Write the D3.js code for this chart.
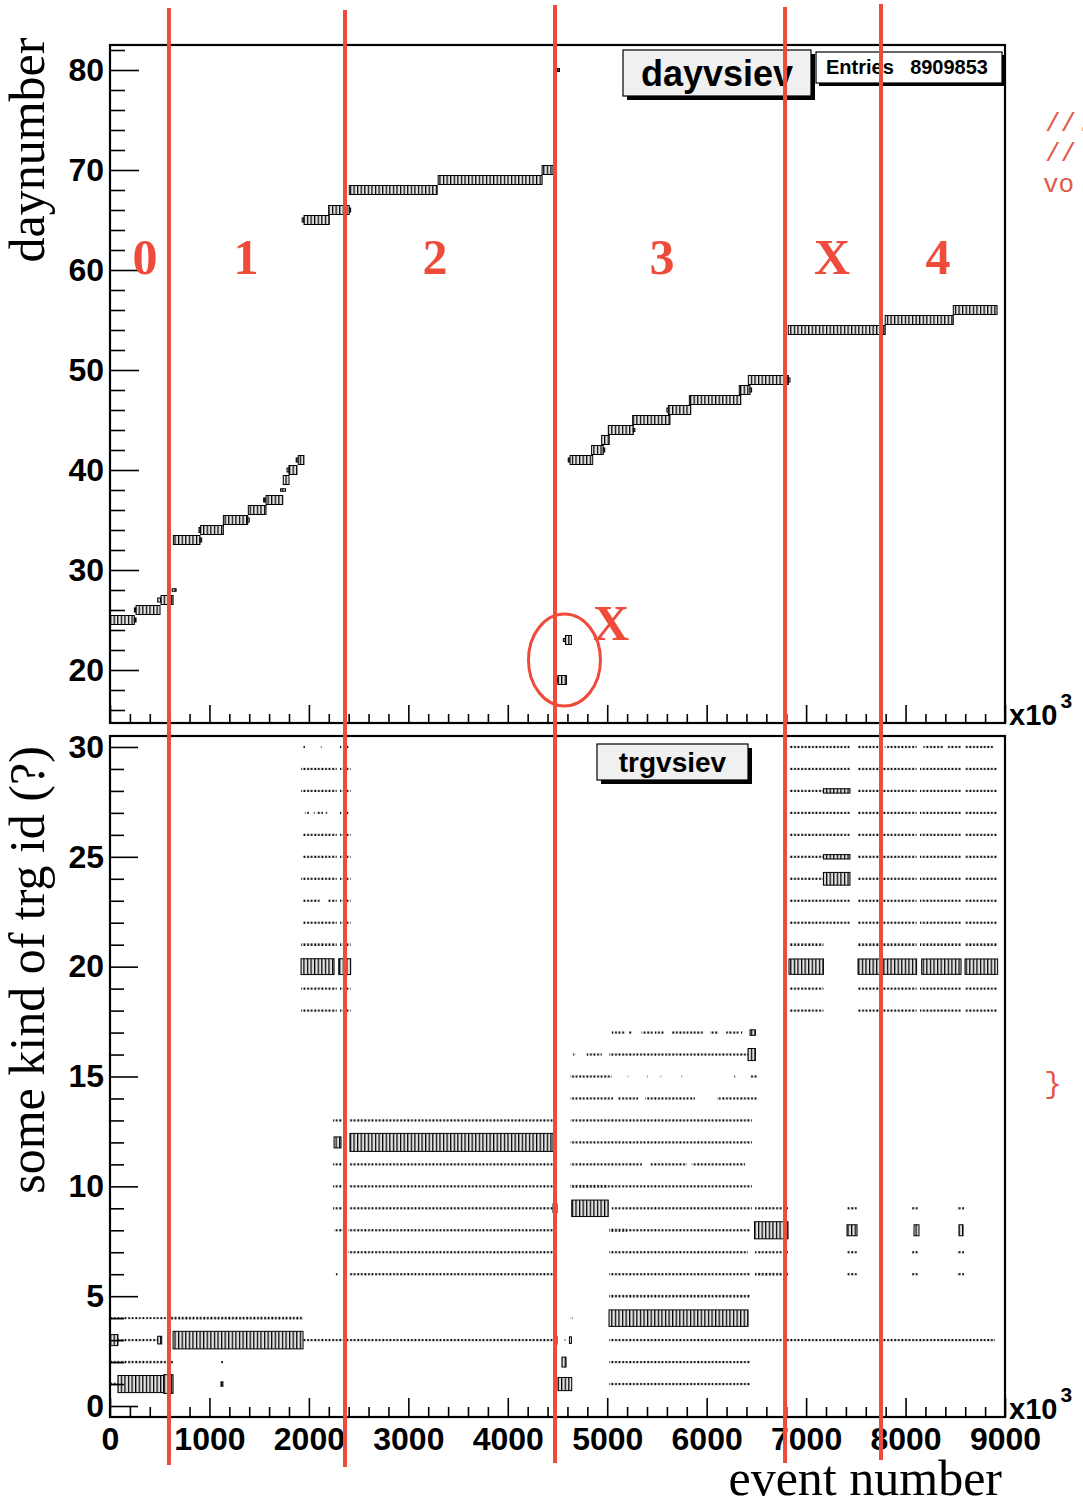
<!DOCTYPE html>
<html><head><meta charset="utf-8">
<script src="https://cdn.jsdelivr.net/npm/d3@7"></script>
<style>body{margin:0;background:#fff}svg{display:block}</style>
</head><body>
<script>
// ---------------- DATA ----------------
const xMajorTicks = [0,1000,2000,3000,4000,5000,6000,7000,8000,9000];
const dayTickLabels = [20,30,40,50,60,70,80];
const trgTickLabels = [0,5,10,15,20,25,30];
const entries = "8909853";

// top histogram (dayvsiev): [day, event from (x10^3), event to, relative box size]
const dayRuns = [
 [25,0,245,0.9],[25,245,262,0.4],
 [26,245,262,0.4],[26,262,503,0.9],
 [27,480,513,0.4],[27,513,635,0.9],
 [28,625,665,0.25],
 [33,637,905,0.9],[33,905,922,0.4],
 [34,895,912,0.5],[34,912,1140,0.9],
 [35,1140,1385,0.9],[35,1385,1400,0.4],
 [36,1391,1569,0.9],
 [37,1545,1569,0.4],[37,1569,1737,0.9],
 [38,1715,1765,0.25],
 [39,1742,1800,0.9],
 [40,1780,1800,0.4],[40,1800,1880,0.9],
 [41,1872,1893,0.4],[41,1893,1950,0.9],
 [65,1932,1951,0.4],[65,1951,2205,0.9],
 [66,2199,2406,0.9],[66,2406,2420,0.4],
 [68,2406,3290,0.9],
 [69,3300,4345,0.9],
 [70,4345,4455,0.9],
 [80,4500,4520,0.3],
 [19,4488,4505,0.4],[19,4505,4590,0.9],
 [23,4560,4580,0.3],[23,4580,4640,0.9],
 [41,4608,4626,0.4],[41,4626,4854,0.9],
 [42,4843,4960,0.9],[42,4960,4975,0.4],
 [43,4944,5020,0.9],
 [44,5011,5262,0.9],[44,5262,5278,0.3],
 [45,5256,5631,0.9],
 [46,5600,5615,0.4],[46,5615,5840,0.9],
 [47,5826,6343,0.9],
 [48,6328,6436,0.9],[48,6436,6452,0.4],
 [49,6419,6821,0.9],[49,6821,6838,0.4],
 [54,6820,7795,0.9],
 [55,7795,8480,0.9],
 [56,8480,8920,0.9]
];

// bottom histogram (trgvsiev): [trg id, event from (x10^3), event to, relative box size]
const trgRuns = [
 // run 0 region
 [4,0,600,0.09],[4,600,1941,0.12],
 [3,0,80,0.5],[3,80,480,0.1],[3,480,520,0.35],[3,634,1941,0.8],[3,1941,4475,0.1],
 [2,0,634,0.11],[2,1116,1136,0.1],
 [1,0,80,0.12],[1,80,540,0.78],[1,540,634,0.85],[1,1116,1136,0.2],
 // run 1 region
 [30,1941,1960,0.1],[30,2112,2130,0.1],[30,2313,2330,0.1],[30,2380,2400,0.1],
 [29,1921,2280,0.1],[29,2313,2420,0.1],
 [28,1921,2280,0.1],[28,2313,2420,0.1],
 [27,1960,2000,0.1],[27,2040,2060,0.1],[27,2080,2140,0.1],[27,2170,2190,0.1],[27,2313,2330,0.1],[27,2380,2400,0.1],
 [26,1941,2280,0.1],[26,2313,2420,0.1],
 [25,1941,2280,0.1],[25,2313,2420,0.1],
 [24,1921,2280,0.1],[24,2313,2420,0.1],
 [23,1941,2110,0.1],[23,2190,2280,0.1],[23,2313,2420,0.1],
 [22,1941,2280,0.1],[22,2313,2420,0.1],
 [21,1921,2280,0.12],[21,2313,2420,0.12],
 [20,1921,2253,0.72],[20,2300,2420,0.72],
 [19,1921,2280,0.1],[19,2313,2420,0.1],
 [18,1921,2280,0.1],[18,2313,2420,0.1],
 // run 2 region
 [13,2243,2333,0.1],[13,2403,4455,0.1],
 [12,2253,2323,0.5],[12,2413,4455,0.82],
 [11,2243,2333,0.1],[11,2403,4455,0.1],
 [10,2243,2333,0.1],[10,2403,4495,0.1],
 [9,2243,2333,0.1],[9,2403,4455,0.1],[9,4455,4495,0.4],
 [8,2253,2343,0.1],[8,2393,4495,0.1],
 [7,2393,4495,0.1],
 [6,2270,2290,0.1],[6,2403,4495,0.1],
 [28,4460,4480,0.1],[20,4460,4480,0.1],
 // run 3 region
 [17,5045,5180,0.1],[17,5210,5245,0.1],[17,5345,5465,0.1],[17,5480,5580,0.1],[17,5650,5965,0.1],[17,6034,6117,0.1],[17,6195,6325,0.1],[17,6345,6360,0.1],[17,6436,6490,0.25],
 [16,4656,4680,0.1],[16,4794,4945,0.1],[16,5018,6416,0.1],[16,6416,6490,0.55],
 [15,4626,5045,0.1],[15,5205,5220,0.1],[15,5390,5405,0.1],[15,5530,5545,0.1],[15,5742,5757,0.1],[15,6278,6293,0.1],[15,6436,6517,0.1],
 [14,4626,5058,0.1],[14,5108,5310,0.1],[14,5380,5883,0.1],[14,6104,6517,0.1],
 [13,4626,6456,0.1],
 [12,4626,6456,0.1],
 [11,4626,5350,0.1],[11,5430,5800,0.1],[11,5850,6386,0.1],
 [10,4626,4998,0.13],[10,4998,6456,0.1],
 [9,4643,5010,0.75],[9,5045,6456,0.1],[9,6486,6818,0.1],
 [8,5018,5200,0.14],[8,5200,6436,0.1],[8,6481,6818,0.78],
 [7,5018,6416,0.1],[7,6486,6818,0.1],
 [6,5018,6436,0.1],[6,6486,6818,0.12],
 [5,5018,6436,0.12],
 [4,4630,4650,0.1],[4,5018,6416,0.75],
 [3,4475,4495,0.35],[3,4565,4580,0.1],[3,4620,4640,0.3],[3,5018,8900,0.1],
 [2,4545,4586,0.45],[2,5018,6436,0.1],
 [1,4505,4643,0.6],[1,5018,6436,0.1],
 // run X and run 4 region
 [30,6828,7441,0.1],[30,7522,7729,0.1],[30,7791,8111,0.1],[30,8180,8387,0.1],[30,8423,8558,0.1],[30,8598,8890,0.1],
 [29,6828,7441,0.1],[29,7522,8111,0.1],[29,8145,8558,0.1],[29,8598,8926,0.1],
 [28,6828,7174,0.1],[28,7174,7441,0.2],[28,7522,8111,0.1],[28,8145,8558,0.1],[28,8598,8926,0.1],
 [27,6828,7441,0.1],[27,7522,8111,0.1],[27,8145,8558,0.1],[27,8598,8926,0.1],
 [26,6828,7441,0.1],[26,7522,8111,0.1],[26,8145,8558,0.1],[26,8598,8926,0.1],
 [25,6828,7174,0.1],[25,7174,7441,0.2],[25,7522,8111,0.1],[25,8145,8558,0.1],[25,8598,8926,0.1],
 [24,6828,7174,0.1],[24,7174,7441,0.58],[24,7522,8111,0.1],[24,8145,8558,0.1],[24,8598,8926,0.1],
 [23,6828,7441,0.1],[23,7522,8111,0.1],[23,8145,8558,0.1],[23,8598,8926,0.1],
 [22,6828,7441,0.1],[22,7522,8111,0.1],[22,8145,8558,0.1],[22,8598,8926,0.1],
 [21,6828,7174,0.12],[21,7522,8111,0.12],[21,8145,8558,0.12],[21,8598,8926,0.12],
 [20,6828,7174,0.7],[20,7522,8111,0.7],[20,8162,8558,0.7],[20,8598,8926,0.7],
 [19,6828,7174,0.1],[19,7522,8111,0.1],[19,8145,8558,0.1],[19,8598,8926,0.1],
 [18,6828,7174,0.1],[18,7522,8111,0.1],[18,8145,8558,0.1],[18,8598,8926,0.1],
 [9,7411,7512,0.1],[9,8065,8135,0.1],[9,8517,8588,0.1],
 [8,7411,7512,0.5],[8,8085,8135,0.5],[8,8537,8578,0.5],
 [7,7411,7512,0.1],[7,8065,8135,0.1],[7,8517,8588,0.1],
 [6,7411,7512,0.1],[6,8065,8135,0.1],[6,8517,8588,0.1]
];

// red annotations
const runBoundaries = [593, 2363, 4475, 6788, 7753];
const runLabels = ["0","1","2","3","X","4"];
const runLabelPos = [352, 1368, 3268, 5551, 7260, 8326];
const circledPoint = [4570, 21];
const codeLines = ["//.", "//", "vo"];

// ---------------- CHART ----------------
const W = 1083, H = 1506;
const RED = "#ee4b3b";
const svg = d3.select("body").append("svg").attr("width", W).attr("height", H)
  .style("font-family", "'Liberation Sans', Arial, Helvetica, sans-serif");

const L = 110, R = 1005;
const x = d3.scaleLinear().domain([0, 9000]).range([L, R]);
const topP = {t: 45, b: 723};
const botP = {t: 736, b: 1417};
const yTop = d3.scaleLinear().domain([14.7, 82.5]).range([topP.b, topP.t]);
const yBot = d3.scaleLinear().domain([-0.5, 30.5]).range([botP.b, botP.t]);

const binW = 36;
const binPx = x(binW) - x(0);
const defs = svg.append("defs");
const pDots = defs.append("pattern").attr("id", "dots").attr("patternUnits", "userSpaceOnUse")
  .attr("x", L).attr("y", 0).attr("width", binPx).attr("height", H);
pDots.append("rect").attr("x", 0.3).attr("y", 0).attr("width", binPx * 0.5).attr("height", H).attr("fill", "#000");
const pBox = defs.append("pattern").attr("id", "box").attr("patternUnits", "userSpaceOnUse")
  .attr("x", L).attr("y", 0).attr("width", binPx).attr("height", H);
pBox.append("rect").attr("width", binPx).attr("height", H).attr("fill", "#e2e2e2");
pBox.append("rect").attr("x", 0).attr("width", 1.25).attr("height", H).attr("fill", "#000");

function drawRuns(runs, y, band) {
  svg.append("g").selectAll("rect").data(runs).join("rect")
    .attr("x", d => x(d[1]))
    .attr("width", d => Math.max(1.2, x(d[2]) - x(d[1])))
    .attr("y", d => y(d[0]) - d[3] * band / 2)
    .attr("height", d => Math.max(1.4, d[3] * band))
    .attr("fill", d => d[3] < 0.16 ? "url(#dots)" : "url(#box)")
    .attr("stroke", d => d[3] < 0.16 ? "none" : "#000")
    .attr("stroke-width", 1);
}

function drawAxes(y, panel, yMajor, yMinorStep, yMajLen, yMinLen, xMajLen, xMinLen, showXLabels) {
  const xMinor = d3.range(0, 9001, 200).filter(v => v % 1000 !== 0);
  const gx = svg.append("g").attr("transform", `translate(0,${panel.b})`);
  gx.append("g").call(d3.axisBottom(x).tickValues(xMajorTicks).tickSize(-xMajLen).tickFormat(""));
  gx.append("g").call(d3.axisBottom(x).tickValues(xMinor).tickSize(-xMinLen).tickFormat(""));
  if (showXLabels) {
    gx.append("g").call(d3.axisBottom(x).tickValues(xMajorTicks).tickSize(0).tickPadding(10).tickFormat(d3.format("d")))
      .selectAll("text").attr("font-size", 32).attr("font-weight", "bold").attr("fill", "#000")
      .attr("font-family", "'Liberation Sans', Arial, sans-serif");
  }
  const [d0, d1] = y.domain();
  const yMinor = d3.range(Math.ceil(d0 / yMinorStep) * yMinorStep, d1, yMinorStep).filter(v => !yMajor.includes(v));
  const gy = svg.append("g").attr("transform", `translate(${L},0)`);
  gy.append("g").call(d3.axisLeft(y).tickValues(yMajor).tickSize(-yMajLen).tickPadding(6).tickFormat(d3.format("d")))
    .selectAll("text").attr("font-size", 32).attr("font-weight", "bold").attr("fill", "#000")
    .attr("font-family", "'Liberation Sans', Arial, sans-serif");
  gy.append("g").call(d3.axisLeft(y).tickValues(yMinor).tickSize(-yMinLen).tickFormat(""));
  svg.selectAll(".domain").remove();
  svg.selectAll(".tick line").attr("stroke", "#000").attr("stroke-width", 1.6);
  svg.append("rect").attr("x", L).attr("y", panel.t).attr("width", R - L).attr("height", panel.b - panel.t)
    .attr("fill", "none").attr("stroke", "#000").attr("stroke-width", 2.2);
  // x10^3
  const t = svg.append("text").attr("x", 1009).attr("y", panel.b + 2).attr("font-weight", "bold").attr("font-size", 29);
  t.append("tspan").text("x10");
  t.append("tspan").attr("dy", -17).attr("dx", 3).attr("font-size", 21).text("3");
}

drawRuns(dayRuns, yTop, yTop(0) - yTop(1));
drawRuns(trgRuns, yBot, yBot(0) - yBot(1));
drawAxes(yTop, topP, dayTickLabels, 2, 29, 15, 18, 9, false);
drawAxes(yBot, botP, trgTickLabels, 1, 28, 14, 19, 10, true);

function titleBox(x0, y0, w, h, label, fs, fill, shadow) {
  svg.append("rect").attr("x", x0 + shadow).attr("y", y0 + shadow).attr("width", w).attr("height", h).attr("fill", "#000");
  svg.append("rect").attr("x", x0).attr("y", y0).attr("width", w).attr("height", h).attr("fill", fill)
    .attr("stroke", "#000").attr("stroke-width", 1.2);
  if (label) svg.append("text").attr("x", x0 + w / 2).attr("y", y0 + h / 2).attr("dy", "0.36em")
    .attr("text-anchor", "middle").attr("font-weight", "bold").attr("font-size", fs).text(label);
}
titleBox(623, 50, 188, 46, "dayvsiev", 36, "#f0f0f0", 4);
titleBox(816, 52, 186, 31, null, 20, "#fff", 3);
svg.append("text").attr("x", 826).attr("y", 74).attr("font-weight", "bold").attr("font-size", 20).text("Entries");
svg.append("text").attr("x", 988).attr("y", 74).attr("text-anchor", "end").attr("font-weight", "bold").attr("font-size", 20).text(entries);
titleBox(597, 744, 151, 36, "trgvsiev", 28, "#f0f0f0", 4);

// axis titles
const serif = "'Liberation Serif', 'Times New Roman', serif";
svg.append("text").attr("transform", "translate(44,150) rotate(-90)").attr("text-anchor", "middle")
  .attr("font-family", serif).attr("font-size", 50).text("daynumber");
svg.append("text").attr("transform", "translate(44,970) rotate(-90)").attr("text-anchor", "middle")
  .attr("font-family", serif).attr("font-size", 50).text("some kind of trg id (?)");
svg.append("text").attr("x", 1002).attr("y", 1495).attr("text-anchor", "end")
  .attr("font-family", serif).attr("font-size", 50).text("event number");

// red annotations
const ann = svg.append("g");
const lineTops = [8, 10, 5, 7, 4];
const lineBots = [1465, 1467, 1463, 1463, 1460];
ann.selectAll("line").data(runBoundaries).join("line")
  .attr("x1", d => x(d)).attr("x2", d => x(d))
  .attr("y1", (d, i) => lineTops[i]).attr("y2", (d, i) => lineBots[i])
  .attr("stroke", RED).attr("stroke-width", 4);
ann.selectAll("text.rl").data(runLabels).join("text").attr("class", "rl")
  .attr("x", (d, i) => x(runLabelPos[i])).attr("y", 274).attr("text-anchor", "middle")
  .attr("font-family", serif).attr("font-weight", "bold").attr("font-size", 50).attr("fill", RED).text(d => d);
ann.append("ellipse").attr("cx", x(circledPoint[0])).attr("cy", yTop(circledPoint[1]))
  .attr("rx", 36).attr("ry", 46).attr("fill", "none").attr("stroke", RED).attr("stroke-width", 3);
ann.append("text").attr("x", 611).attr("y", 640).attr("text-anchor", "middle")
  .attr("font-family", serif).attr("font-weight", "bold").attr("font-size", 50).attr("fill", RED).text("X");
const mono = "'Liberation Mono', 'DejaVu Sans Mono', monospace";
ann.selectAll("text.code").data(codeLines).join("text").attr("class", "code")
  .attr("x", (d, i) => i === 2 ? 1043 : 1045).attr("y", (d, i) => [131, 161, 192][i])
  .attr("font-family", mono).attr("font-size", 26).attr("fill", "#e05a48").text(d => d);
ann.append("text").attr("x", 1044).attr("y", 1093).attr("font-family", mono).attr("font-size", 30)
  .attr("fill", "#e05a48").text("}");
</script>
</body></html>
